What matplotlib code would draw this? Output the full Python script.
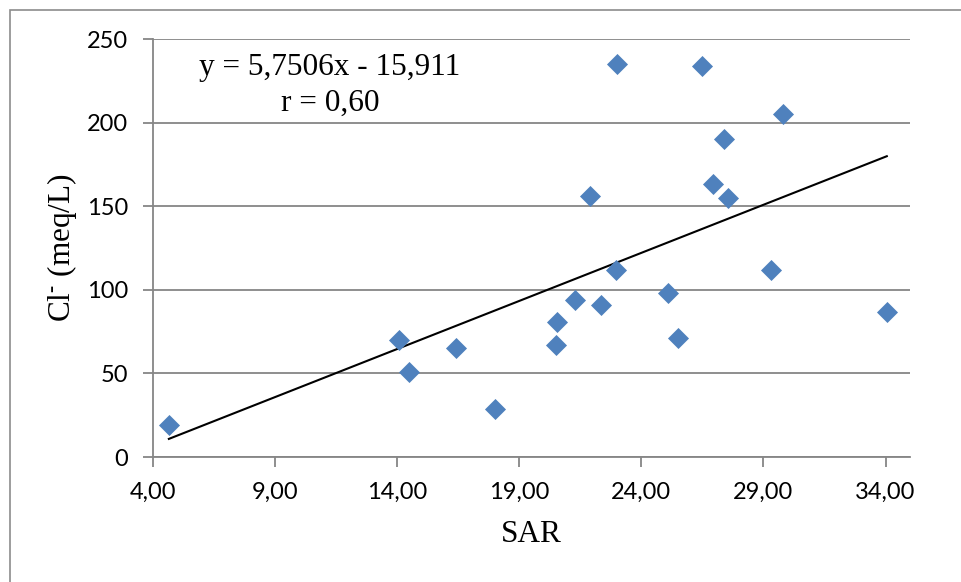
import matplotlib
matplotlib.use("Agg")
import matplotlib.pyplot as plt
import matplotlib.patches as patches
from matplotlib.ticker import FuncFormatter

# SAR vs chloride
sar = [4.65, 14.07, 14.5, 16.4, 18.0, 20.5, 20.55, 21.3, 22.35, 25.1, 25.5,
       34.05, 23.0, 26.5, 29.8, 27.4, 21.9, 26.95, 27.55, 22.95, 29.3]
cl = [19, 70, 51, 65, 29, 67, 81, 94, 91, 98, 71,
      87, 235, 234, 205, 190, 156, 163, 155, 112, 112]

slope = 5.7506
intercept = -15.911
x_ticks = [4, 9, 14, 19, 24, 29, 34]
y_ticks = [0, 50, 100, 150, 200, 250]

plt.rcParams['mathtext.fontset'] = 'custom'
plt.rcParams['mathtext.rm'] = 'Liberation Serif'

fig = plt.figure(figsize=(9.61, 5.82), dpi=100)
ax = fig.add_axes([153 / 961, 1 - 457 / 582, (910 - 153) / 961, (457 - 39) / 582])

grey = '#868686'

# outer chart border
fig.patches.append(patches.Rectangle((9.5 / 961, -0.2), 1.2, 1.2 - 10 / 582,
                                     transform=fig.transFigure, fill=False,
                                     edgecolor='#8c8c8c', linewidth=1.2))

ax.scatter(sar, cl, marker='D', s=115, color='#4F81BD', zorder=3, linewidths=0)

x0, x1 = min(sar), max(sar)
ax.plot([x0, x1], [slope * x0 + intercept, slope * x1 + intercept],
        color='black', linewidth=1.5, zorder=2)

ax.set_xlim(4, 35)
ax.set_ylim(0, 250)
ax.set_xticks(x_ticks)
ax.set_yticks(y_ticks)
ax.xaxis.set_major_formatter(FuncFormatter(lambda v, p: f"{v:.2f}".replace('.', ',')))

ax.grid(axis='y', color=grey, linewidth=1.3)
ax.set_axisbelow(True)
for s in ['top', 'right']:
    ax.spines[s].set_visible(False)
for s in ['left', 'bottom']:
    ax.spines[s].set_color(grey)
    ax.spines[s].set_linewidth(1.3)

ax.tick_params(axis='both', direction='out', length=7, width=1.3, color=grey,
               labelsize=17, pad=11)
for lab in ax.get_xticklabels() + ax.get_yticklabels():
    lab.set_fontfamily('Lato')

ax.set_xlabel('SAR', fontsize=22.5, family='Liberation Serif', va='center')
ax.set_ylabel(r'Cl$^{\text{-}}$ (meq/L)', fontsize=22.5, family='Liberation Serif',
              va='center')
ax.xaxis.set_label_coords((531 - 153) / 757, (457 - 535) / 418)
ax.yaxis.set_label_coords((62 - 153) / 757, 0.5)

fig.text(330 / 961, 1 - 67 / 582, 'y = 5,7506x - 15,911', fontsize=22.5,
         family='Liberation Serif', ha='center', va='center')
fig.text(330 / 961, 1 - 103 / 582, 'r = 0,60', fontsize=22.5,
         family='Liberation Serif', ha='center', va='center')

fig.savefig('out.png', dpi=100)
